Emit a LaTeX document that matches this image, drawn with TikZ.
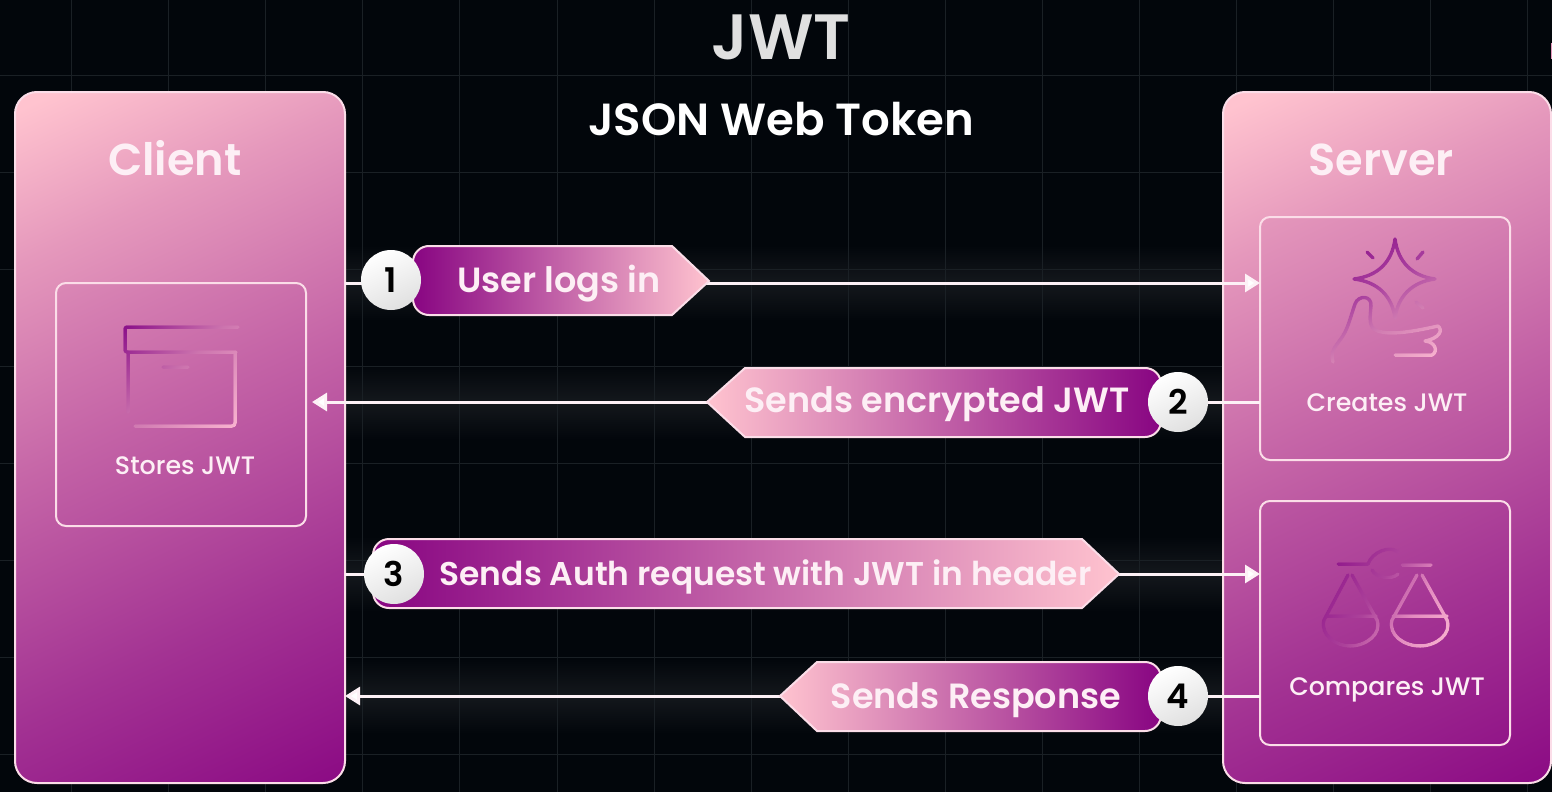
\documentclass[tikz,border=0pt]{standalone}
\usepackage{fontspec}
\usetikzlibrary{arrows.meta,fadings,calc}
\setmainfont{Poppins}[BoldFont={Poppins SemiBold}]
\newfontfamily\medfont{Poppins Medium}
\definecolor{bgc}{HTML}{02060B}
\definecolor{gridc}{HTML}{1A2025}
\definecolor{pinkA}{HTML}{FFC3CF}
\definecolor{pinkB}{HTML}{E598BC}
\definecolor{midA}{HTML}{C565A7}
\definecolor{midB}{HTML}{A33393}
\definecolor{purp}{HTML}{880582}
\definecolor{edgec}{HTML}{FBDDE8}
\definecolor{txtc}{HTML}{FDEFF5}
\definecolor{icDark}{HTML}{8C128A}
\definecolor{icLight}{HTML}{F9B4D0}
\definecolor{icSoft}{HTML}{E48CC0}
\definecolor{icMidBox}{HTML}{CC74AE}
\definecolor{icMidStar}{HTML}{D27EB2}
\definecolor{icDeepStar}{HTML}{A83E9E}
\definecolor{icMidScale}{HTML}{AC429A}
\pgfdeclareverticalshading{panelgrad}{100bp}{color(0bp)=(purp);color(25bp)=(purp);color(39bp)=(midB);color(53bp)=(midA);color(66bp)=(pinkB);color(75bp)=(pinkA);color(100bp)=(pinkA)}
\pgfdeclareverticalshading{iconBox}{100bp}{color(0bp)=(icLight);color(25bp)=(icLight);color(52bp)=(icMidBox);color(75bp)=(icDark);color(100bp)=(icDark)}
\pgfdeclareverticalshading{iconStar}{100bp}{color(0bp)=(icLight);color(25bp)=(icLight);color(42bp)=(icMidStar);color(56bp)=(icDeepStar);color(75bp)=(icDark);color(100bp)=(icDark)}
\pgfdeclareverticalshading{iconScale}{100bp}{color(0bp)=(icLight);color(25bp)=(icLight);color(40bp)=(icSoft);color(55bp)=(icMidScale);color(75bp)=(icDark);color(100bp)=(icDark)}
\tikzset{x=1pt,y=-1pt,
  panelbox/.style={draw=edgec,line width=2pt,rounded corners=22pt,inner sep=0pt,minimum width=#1,outer sep=0pt},
  innerbox/.style={draw=edgec,line width=2pt,rounded corners=10pt,minimum width=250pt,inner sep=0pt,outer sep=0pt},
  gridline/.style={draw=gridc,line width=1pt},
  flowline/.style={draw=edgec!40!white,line width=3pt},
  flowarrow/.style={flowline,-{Triangle[length=15pt,width=18pt,fill=white]}},
  pillshape/.style={draw=edgec,line width=2pt},
  pilltext/.style={text=txtc,font=\bfseries\fontsize{35}{35}\selectfont,inner sep=0pt,anchor=base},
  numdisc/.style={circle,minimum size=60pt,inner sep=0pt,top color=white,bottom color=white!88!black,shading angle=25,text=black,font=\bfseries\fontsize{34}{34}\selectfont},
  boxtext/.style={text=txtc,font=\medfont\fontsize{25.3}{25.3}\selectfont,inner sep=0pt,anchor=base},
  headtext/.style={text=txtc,font=\bfseries\fontsize{44.7}{44.7}\selectfont,inner sep=0pt,anchor=base},
  iconline/.style={draw=transparent!0,line width=3.5pt,line cap=round,line join=round},
}
\begin{tikzfadingfrompicture}[name=boxicon]
 \path (-100,-100) rectangle (100,100);
 \begin{scope}[shift={(-181,-377)},iconline]
  \draw[rounded corners=2pt] (238,327) -- (125,327) -- (125,352) -- (236,352);
  \draw[rounded corners=2pt] (128,412) -- (128,352);
  \draw[rounded corners=3pt] (235,353) -- (235,426) -- (135,426);
  \draw (163,367) -- (188,367);
 \end{scope}
\end{tikzfadingfrompicture}
\begin{tikzfadingfrompicture}[name=staricon]
 \path (-100,-100) rectangle (100,100);
 \begin{scope}[shift={(-1387,-300)},iconline]
  \draw (1395,239) .. controls (1398,262) and (1412,276) .. (1435,279)
        .. controls (1412,282) and (1398,296) .. (1395,318)
        .. controls (1392,296) and (1378,282) .. (1354,279)
        .. controls (1378,276) and (1392,262) .. (1395,239) -- cycle;
  \draw (1367,252) -- (1373,258);
  \draw (1423,252) -- (1417,259);
  \draw (1416,302) -- (1423,308);
  \draw (1333,362) .. controls (1330,352) and (1335,347) .. (1340,340)
        .. controls (1348,330) and (1350,318) .. (1355,304)
        .. controls (1358,295) and (1372,295) .. (1371,306)
        .. controls (1370,318) and (1368,328) .. (1378,331)
        .. controls (1392,336) and (1420,330) .. (1438,326)
        .. controls (1443,330) and (1440,338) .. (1425,341)
        .. controls (1436,342) and (1438,352) .. (1432,355)
        -- (1395,355);
 \end{scope}
\end{tikzfadingfrompicture}
\begin{tikzfadingfrompicture}[name=scaleicon]
 \path (-100,-100) rectangle (100,100);
 \begin{scope}[shift={(-1385,-605)},iconline]
  \draw (1338,564) -- (1368,564);
  \draw (1402,565) -- (1431,565);
  \draw (1368,564) .. controls (1372,552) and (1390,545) .. (1398,552);
  \draw (1372,570) .. controls (1376,578) and (1392,580) .. (1398,574);
  \draw (1348,575) -- (1324,620) .. controls (1320,635) and (1336,646) .. (1350,646)
        .. controls (1366,646) and (1382,634) .. (1377,620) -- (1352,575);
  \draw (1326,616) -- (1376,616);
  \draw (1417,575) -- (1392,620) .. controls (1388,635) and (1404,646) .. (1420,646)
        .. controls (1436,646) and (1452,634) .. (1447,620) -- (1422,575);
  \draw (1393,616) -- (1447,616);
 \end{scope}
\end{tikzfadingfrompicture}
\begin{document}
\begin{tikzpicture}[x=1pt,y=-1pt]
\useasboundingbox (0,0) rectangle (1552,792);
\fill[bgc] (0,0) rectangle (1552,792);
% glow bands
\foreach \gy in {283,402,574,696}{
  \shade[top color=bgc,bottom color=white!7!bgc] (345,\gy-38) rectangle (1223,\gy);
  \shade[top color=white!7!bgc,bottom color=bgc] (345,\gy) rectangle (1223,\gy+38);
}
% grid
\foreach \gx in {71,168,265,362,459,557,654,751,848,945,1042,1139,1236,1333,1430,1527}
  \draw[gridline] (\gx,0) -- (\gx,792);
\foreach \gy in {75,172,269,366,463,560,657,754}
  \draw[gridline] (0,\gy) -- (1552,\gy);
\fill[pinkB] (1550.5,43) rectangle (1552,59);
% titles
\node[text=white!88!black,font=\bfseries\fontsize{64}{64}\selectfont,inner sep=0pt] (title) at (781,37) {JWT};
\node[text=white,font=\bfseries\fontsize{45}{45}\selectfont,inner sep=0pt] (subtitle) at (781,119) {JSON Web Token};
% panels
\node[panelbox=330pt,minimum height=691pt,path picture={\shade[shading=panelgrad,shading angle=25] ($(path picture bounding box.center)+(0,22)$) +(-385,-385) rectangle +(385,385);}] (client) at (180,437.5) {};
\node[panelbox=328pt,minimum height=691pt,path picture={\shade[shading=panelgrad,shading angle=25] ($(path picture bounding box.center)+(0,22)$) +(-385,-385) rectangle +(385,385);}] (server) at (1387,437.5) {};
\node[headtext] (clientlabel) at (175,175) {Client};
\node[headtext] (serverlabel) at (1381,175) {Server};
% inner boxes
\node[innerbox,minimum height=243pt,path picture={\shade[shading=panelgrad,shading angle=25] ($(path picture bounding box.center)+(0,40)$) +(-420,-420) rectangle +(420,420);}] (stores) at (181,404.5) {};
\node[innerbox,minimum height=243pt,path picture={\shade[shading=panelgrad,shading angle=25] ($(path picture bounding box.center)+(-20,125)$) +(-420,-420) rectangle +(420,420);}] (creates) at (1385,338.5) {};
\node[innerbox,minimum height=244pt,path picture={\shade[shading=panelgrad,shading angle=25] ($(path picture bounding box.center)+(-60,-165)$) +(-420,-420) rectangle +(420,420);}] (compares) at (1385,623) {};
% icons
\shade[shading=iconBox,shading angle=45,path fading=boxicon,fit fading=false,fading transform={shift={(181,377)}}] (106,302) rectangle (256,452);
\shade[shading=iconStar,shading angle=30,path fading=staricon,fit fading=false,fading transform={shift={(1387,300)}}] (1312,225) rectangle (1462,375);
\shade[shading=iconScale,shading angle=60,path fading=scaleicon,fit fading=false,fading transform={shift={(1385,605)}}] (1310,530) rectangle (1460,680);
\node[boxtext] (storeslabel) at (185,474) {Stores JWT};
\node[boxtext] (createslabel) at (1387,411) {Creates JWT};
\node[boxtext] (compareslabel) at (1387,695) {Compares JWT};
% connectors
\coordinate (a1) at (345,283);
\coordinate (a2) at (312,402);
\coordinate (a3) at (345,574);
\coordinate (a4) at (345,696);
\draw[flowarrow] (a1) -- (creates.west |- a1);
\draw[flowarrow] (creates.west |- a2) -- (a2);
\draw[flowarrow] (a3) -- (compares.west |- a3);
\draw[flowarrow] (compares.west |- a4) -- (a4);
% pills
\draw[pillshape,left color=purp,middle color=midA,right color=pinkA] (413,280) [rounded corners=16pt] |- (460,246) [sharp corners] -- (672,246) -- (709,281) -- (672,315) -- (460,315) [rounded corners=16pt] -| (413,280) [sharp corners] -- cycle;
\draw[pillshape,left color=pinkA,middle color=midA,right color=purp] (1161,402) [rounded corners=16pt] |- (1100,368) [sharp corners] -- (745,368) -- (707,402) -- (745,437) -- (1100,437) [rounded corners=16pt] -| (1161,402) [sharp corners] -- cycle;
\draw[pillshape,left color=purp,middle color=midA,right color=pinkA] (373,574) [rounded corners=16pt] |- (420,539) [sharp corners] -- (1082,539) -- (1119,574) -- (1082,608) -- (420,608) [rounded corners=16pt] -| (373,574) [sharp corners] -- cycle;
\draw[pillshape,left color=pinkA,middle color=midA,right color=purp] (1161,696) [rounded corners=16pt] |- (1100,662) [sharp corners] -- (817,662) -- (780,696) -- (817,731) -- (1100,731) [rounded corners=16pt] -| (1161,696) [sharp corners] -- cycle;
\node[pilltext] (l1) at (559,292) {User logs in};
\node[pilltext] (l2) at (937,412) {Sends encrypted JWT};
\node[pilltext,font=\bfseries\fontsize{32.9}{32.9}\selectfont] (l3) at (765.5,585) {Sends Auth request with JWT in header};
\node[pilltext] (l4) at (976,708) {Sends Response};
\node[numdisc] (n1) at (391,280) {1};
\node[numdisc] (n2) at (1178,402) {2};
\node[numdisc] (n3) at (394,574) {3};
\node[numdisc] (n4) at (1178,696) {4};
\end{tikzpicture}
\end{document}
